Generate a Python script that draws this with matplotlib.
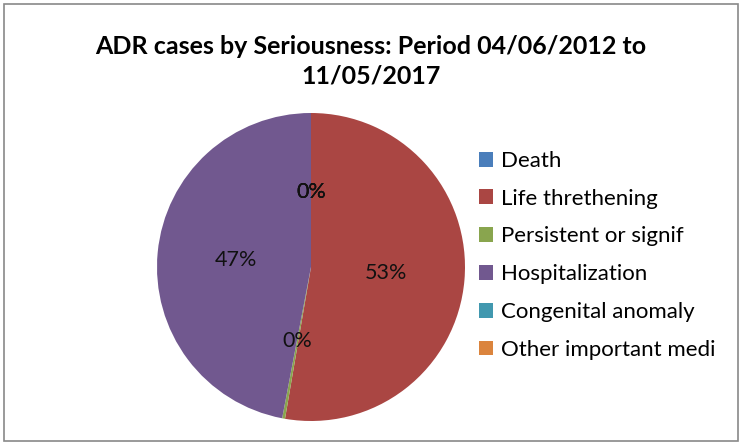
import matplotlib.pyplot as plt
from matplotlib.patches import Rectangle

categories = ["Death", "Life threthening", "Persistent or signif",
              "Hospitalization", "Congenital anomaly", "Other important medi"]
values = [0, 52.7, 0.3, 47.0, 0, 0]
colors = ["#4A7EBB", "#AA4643", "#89A54E", "#71588F", "#4198AF", "#DB843D"]
title = "ADR cases by Seriousness: Period 04/06/2012 to\n11/05/2017"

W, H = 743, 445
fig = plt.figure(figsize=(W / 100, H / 100), dpi=100)
plt.rcParams['font.family'] = ['Lato', 'DejaVu Sans']

# chart border
fig.patches.append(Rectangle((4 / W, 4 / H), (W - 9) / W, (H - 8) / H,
                             transform=fig.transFigure, fill=False,
                             edgecolor="#898989", linewidth=1.2))

fig.text(371 / W, 1 - 61 / H, title, ha="center", va="center",
         fontsize=18, fontweight="bold", linespacing=1.35)

# pie axes: centre (311, 267), radius 154 px
cx, cy, r = 311, 267, 154
ax = fig.add_axes([(cx - r) / W, (H - cy - r) / H, 2 * r / W, 2 * r / H])
wedges, texts, autotexts = ax.pie(values, colors=colors, startangle=90,
                                  counterclock=False, autopct="%1.0f%%",
                                  pctdistance=0.49,
                                  textprops=dict(fontsize=15.5, color="#111111"))
ax.set_xlim(-1, 1)
ax.set_ylim(-1, 1)

handles = [Rectangle((0, 0), 1, 1, facecolor=c) for c in colors]
fig.legend(handles, categories, loc="upper left",
           bbox_to_anchor=(470 / W, 1 - 142 / H), frameon=False,
           fontsize=16, handlelength=0.65, handleheight=0.65,
           handletextpad=0.35, labelspacing=0.8, borderaxespad=0)

fig.savefig("out.png", dpi=100)
